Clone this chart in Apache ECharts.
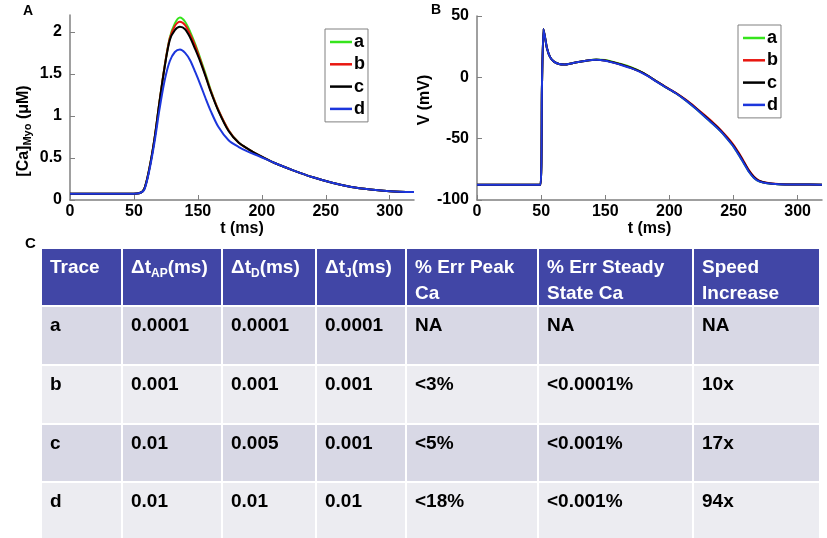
<!DOCTYPE html>
<html>
<head>
<meta charset="utf-8">
<script src="https://cdn.jsdelivr.net/npm/echarts@6.0.0/dist/echarts.min.js"></script>
<style>
    html, body { margin: 0; padding: 0; background: #fff; }
    #main { width: 827px; height: 538px; }
</style>
</head>
<body>
<div id="main"></div>
<script>
// x values are positions along the printed axis (one tick = 50), labels are as printed in the figure
const xTickLabels = ['0', '50', '150', '200', '250', '300']

// A: [Ca]Myo (uM)
const tCa = [0, 50, 54, 58, 62, 66, 70, 74, 78, 82, 86, 90, 94, 98, 102, 106, 110, 116, 124, 132, 140, 148, 160, 175, 190, 205, 220, 235, 250, 269]
const caA = [0.075, 0.075, 0.08, 0.13, 0.37, 0.72, 1.17, 1.59, 1.93, 2.1, 2.17, 2.12, 2.0, 1.85, 1.68, 1.5, 1.31, 1.07, 0.83, 0.68, 0.6, 0.53, 0.44, 0.35, 0.27, 0.205, 0.155, 0.125, 0.105, 0.095]
const caB = [0.075, 0.075, 0.08, 0.13, 0.37, 0.72, 1.17, 1.59, 1.92, 2.07, 2.12, 2.08, 1.97, 1.83, 1.66, 1.48, 1.3, 1.07, 0.83, 0.68, 0.6, 0.53, 0.44, 0.35, 0.27, 0.205, 0.155, 0.125, 0.105, 0.095]
const caC = [0.075, 0.075, 0.08, 0.13, 0.37, 0.72, 1.17, 1.58, 1.9, 2.02, 2.06, 2.03, 1.93, 1.79, 1.64, 1.47, 1.29, 1.06, 0.82, 0.68, 0.6, 0.53, 0.44, 0.35, 0.27, 0.205, 0.155, 0.125, 0.105, 0.095]
const caD = [0.075, 0.075, 0.08, 0.12, 0.35, 0.68, 1.08, 1.42, 1.65, 1.76, 1.79, 1.75, 1.66, 1.52, 1.37, 1.21, 1.06, 0.87, 0.71, 0.63, 0.57, 0.52, 0.44, 0.35, 0.27, 0.205, 0.155, 0.125, 0.105, 0.095]

// B: V (mV)
const tV = [0, 49.5, 50.6, 51.8, 53, 54.5, 57, 60, 64, 68, 75, 85, 93, 100, 106, 113, 120, 127, 133, 140, 147, 155, 163, 170, 177, 184, 190, 195, 200, 204, 208, 212, 216, 220, 226, 235, 250, 269]
const vA = [-87.5, -87.5, -10, 39.5, 33, 24, 16.5, 12.8, 10.8, 10.4, 11.7, 13.6, 14.6, 14.1, 12.6, 10.6, 8.2, 5.1, 1.5, -3.3, -8, -13, -19, -25, -31.5, -38, -44, -50, -56.5, -63, -70, -77, -82, -84.8, -86.3, -87.1, -87.4, -87.5]
const vB = [-87.5, -87.5, -10, 39.5, 33, 24, 16.5, 12.8, 10.8, 10.4, 11.7, 13.6, 14.4, 13.8, 12.3, 10.2, 7.8, 4.8, 1.4, -3.2, -7.8, -12.6, -18.4, -24.2, -30.4, -36.8, -42.8, -48.6, -55, -61.4, -68.4, -75.6, -81, -84.2, -86, -87, -87.4, -87.5]
const vC = [-87.5, -87.5, -10, 39.5, 33, 24, 16.5, 12.8, 10.8, 10.4, 11.7, 13.6, 14.4, 13.8, 12.3, 10.2, 7.8, 4.8, 1.4, -3.3, -7.9, -12.8, -18.7, -24.6, -31, -37.4, -43.4, -49.3, -55.8, -62.2, -69.2, -76.3, -81.5, -84.5, -86.2, -87.1, -87.4, -87.5]
const vD = [-87.5, -87.5, -10, 39.5, 33, 24, 16.5, 12.8, 10.8, 10.4, 11.7, 13.6, 14.4, 13.6, 12.0, 9.9, 7.5, 4.5, 1.2, -3.5, -8.1, -13, -19, -25, -31.5, -38, -44, -50, -56.5, -63, -70, -77, -82, -84.8, -86.3, -87.1, -87.4, -87.5]

const traceNames = ['a', 'b', 'c', 'd']
const traceColors = ['#36e41c', '#e8160f', '#000000', '#1c36dc']

// C: table
const tableHeader = ['Trace', '{m|Δt}{s|AP}{m|(ms)}', '{m|Δt}{s|D}{m|(ms)}', '{m|Δt}{s|J}{m|(ms)}', '% Err Peak\nCa', '% Err Steady\nState Ca', 'Speed\nIncrease']
const dtAP = ['0.0001', '0.001', '0.01', '0.01']
const dtD = ['0.0001', '0.001', '0.005', '0.01']
const dtJ = ['0.0001', '0.001', '0.001', '0.01']
const errPeak = ['NA', '<3%', '<5%', '<18%']
const errSteady = ['NA', '<0.0001%', '<0.001%', '<0.001%']
const speedUp = ['NA', '10x', '17x', '94x']

const FONT = '"Liberation Sans", Arial, Helvetica, sans-serif'

function pairs (xs, ys) {
    return xs.map((x, i) => [x, ys[i]])
}

function xAxisFor (gridIndex) {
    return {
        gridIndex: gridIndex,
        type: 'value',
        min: 0,
        max: 269,
        interval: 50,
        name: 't (ms)',
        nameLocation: 'middle',
        nameGap: 19,
        nameTextStyle: { fontFamily: FONT, fontSize: 16, fontWeight: 'bold', color: '#000' },
        axisLine: { onZero: false, lineStyle: { color: '#808080', width: 1.5 } },
        axisTick: { inside: true, length: 5, lineStyle: { color: '#808080' } },
        axisLabel: {
            margin: 4,
            showMaxLabel: false,
            fontFamily: FONT, fontSize: 16, fontWeight: 'bold', color: '#000',
            formatter: v => (v % 50 === 0 ? xTickLabels[v / 50] : '')
        },
        splitLine: { show: false }
    }
}

function legendFor (left, top) {
    return {
        data: traceNames,
        orient: 'vertical',
        left: left,
        top: top,
        icon: 'rect',
        itemWidth: 22,
        itemHeight: 2.5,
        itemGap: 4.3,
        padding: [4, 3, 4, 5],
        backgroundColor: '#fff',
        borderColor: '#808080',
        borderWidth: 1,
        borderRadius: 0,
        selectedMode: false,
        textStyle: { fontFamily: FONT, fontSize: 18, lineHeight: 18, fontWeight: 'bold', color: '#000', padding: [0, 0, 0, -3] }
    }
}

let series = []
const caSets = [caA, caB, caC, caD]
const vSets = [vA, vB, vC, vD]
traceNames.forEach((name, i) => {
    series.push({
        name: name, type: 'line', xAxisIndex: 0, yAxisIndex: 0,
        data: pairs(tCa, caSets[i]),
        symbol: 'none', smooth: 0.3,
        lineStyle: { color: traceColors[i], width: 2 },
        itemStyle: { color: traceColors[i] }
    })
})
traceNames.forEach((name, i) => {
    series.push({
        name: name, type: 'line', xAxisIndex: 1, yAxisIndex: 1,
        data: pairs(tV, vSets[i]),
        symbol: 'none', smooth: 0.2,
        lineStyle: { color: traceColors[i], width: 2 },
        itemStyle: { color: traceColors[i] }
    })
})

// table drawn with graphic rects and texts
const colEdges = [41, 122, 222, 316, 406, 538, 693, 820]
const rowEdges = [248, 306, 365, 424, 482, 540]
const bodyCols = [traceNames, dtAP, dtD, dtJ, errPeak, errSteady, speedUp]
let tableEls = []
for (let r = 0; r < rowEdges.length - 1; r++) {
    for (let c = 0; c < colEdges.length - 1; c++) {
        let fill = r === 0 ? '#4146a6' : (r % 2 === 1 ? '#d8d8e5' : '#ececf1')
        tableEls.push({
            type: 'rect',
            shape: { x: colEdges[c] + 1, y: rowEdges[r] + 1, width: colEdges[c + 1] - colEdges[c] - 2, height: rowEdges[r + 1] - rowEdges[r] - 2 },
            style: { fill: fill }
        })
        let txt = r === 0 ? tableHeader[c] : bodyCols[c][r - 1]
        let color = r === 0 ? '#fff' : '#000'
        tableEls.push({
            type: 'text',
            style: {
                text: txt,
                x: colEdges[c] + 9,
                y: rowEdges[r] + 7,
                fill: color,
                fontFamily: FONT, fontSize: 19, fontWeight: 'bold',
                lineHeight: 26,
                verticalAlign: 'top',
                rich: {
                    m: { fontFamily: FONT, fontSize: 19, fontWeight: 'bold', color: color, lineHeight: 26 },
                    s: { fontFamily: FONT, fontSize: 12, fontWeight: 'bold', color: color, lineHeight: 26, padding: [12, 0, 0, 0] }
                }
            }
        })
    }
}

const panelLetters = [
    { type: 'text', style: { text: 'A', x: 23, y: 4, fontFamily: FONT, fontSize: 14, fontWeight: 'bold', fill: '#000' } },
    { type: 'text', style: { text: 'B', x: 431, y: 3, fontFamily: FONT, fontSize: 14, fontWeight: 'bold', fill: '#000' } },
    { type: 'text', style: { text: 'C', x: 25, y: 236, fontFamily: FONT, fontSize: 15, fontWeight: 'bold', fill: '#000' } }
]

let option = {
    animation: false,
    backgroundColor: '#fff',
    grid: [
        { left: 70, top: 15, width: 344, height: 185 },
        { left: 477, top: 16, width: 345, height: 184 }
    ],
    xAxis: [xAxisFor(0), xAxisFor(1)],
    yAxis: [{
        gridIndex: 0,
        type: 'value',
        min: 0,
        max: 2.2,
        interval: 0.5,
        name: '{m|[Ca]}{s|Myo}{m| (μM)}',
        nameLocation: 'middle',
        nameGap: 36,
        nameTextStyle: {
            padding: [0, 47, 0, 0],
            rich: {
                m: { fontFamily: FONT, fontSize: 16, fontWeight: 'bold', color: '#000', lineHeight: 20 },
                s: { fontFamily: FONT, fontSize: 11, fontWeight: 'bold', color: '#000', lineHeight: 20, padding: [8, 0, 0, 0] }
            }
        },
        axisLine: { show: true, lineStyle: { color: '#808080', width: 1.5 } },
        axisTick: { show: true, inside: true, length: 5, lineStyle: { color: '#808080' } },
        axisLabel: { margin: 8, showMaxLabel: false, fontFamily: FONT, fontSize: 16, fontWeight: 'bold', color: '#000' },
        splitLine: { show: false }
    }, {
        gridIndex: 1,
        type: 'value',
        min: -100,
        max: 50,
        interval: 50,
        name: 'V (mV)',
        nameLocation: 'middle',
        nameGap: 38,
        nameTextStyle: { fontFamily: FONT, fontSize: 16, fontWeight: 'bold', color: '#000', padding: [0, 0, 0, 16] },
        axisLine: { show: true, lineStyle: { color: '#808080', width: 1.5 } },
        axisTick: { show: true, inside: true, length: 5, lineStyle: { color: '#808080' } },
        axisLabel: { margin: 8, fontFamily: FONT, fontSize: 16, fontWeight: 'bold', color: '#000' },
        splitLine: { show: false }
    }],
    legend: [legendFor(325, 29), legendFor(738, 25)],
    series: series,
    graphic: panelLetters.concat(tableEls)
}

let chart = echarts.init(document.getElementById('main'), null, { renderer: 'canvas' })
chart.setOption(option)
</script>
</body>
</html>
